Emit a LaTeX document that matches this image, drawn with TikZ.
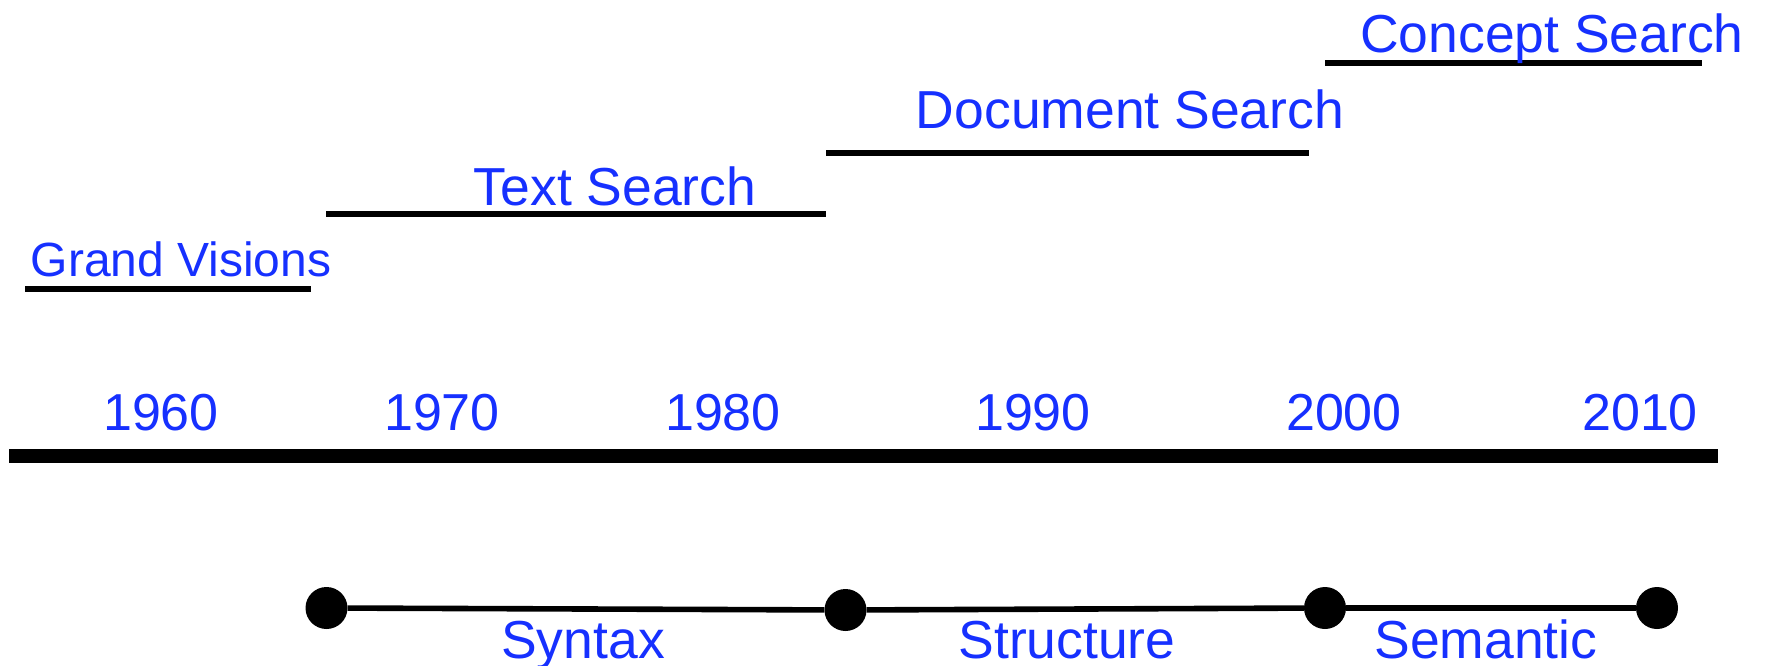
\documentclass[tikz,border=0pt]{standalone}
\usepackage{fontspec}
\setmainfont{Liberation Sans}
\definecolor{lblblue}{RGB}{22,48,255}
\begin{document}
\begin{tikzpicture}[x=1pt,y=-1pt,
  lbl/.style={text=lblblue,font=\fontsize{53.5}{60}\selectfont,inner sep=0pt,anchor=base},
  era/.style={line width=5.6pt},
  axis/.style={line width=13.5pt},
  dot/.style={circle,fill=black,minimum size=42pt,inner sep=0pt},
  link/.style={line width=5.6pt}]
\useasboundingbox (0,0) rectangle (1765,666);
% eras
\coordinate (gvA) at (25,289); \coordinate (gvB) at (311,289);
\coordinate (tsA) at (326,214); \coordinate (tsB) at (826,214);
\coordinate (dsA) at (826,153); \coordinate (dsB) at (1309,153);
\coordinate (csA) at (1325,63); \coordinate (csB) at (1702,63);
\draw[era] (gvA) -- (gvB);
\draw[era] (tsA) -- (tsB);
\draw[era] (dsA) -- (dsB);
\draw[era] (csA) -- (csB);
\node[lbl,font=\fontsize{48}{58}\selectfont] (gv) at (181,276) {Grand Visions};
\node[lbl] (ts) at (615,205) {Text Search};
\node[lbl] (ds) at (1130,129) {Document Search};
\node[lbl] (cs) at (1552,53) {Concept Search};
% axis
\coordinate (axA) at (9,456); \coordinate (axB) at (1718,456);
\draw[axis] (axA) -- (axB);
\node[lbl,font=\fontsize{52}{60}\selectfont] (y60) at (161,430) {1960};
\node[lbl,font=\fontsize{52}{60}\selectfont] (y70) at (442,430) {1970};
\node[lbl,font=\fontsize{52}{60}\selectfont] (y80) at (723,430) {1980};
\node[lbl,font=\fontsize{52}{60}\selectfont] (y90) at (1033,430) {1990};
\node[lbl,font=\fontsize{52}{60}\selectfont] (y00) at (1344,430) {2000};
\node[lbl,font=\fontsize{52}{60}\selectfont] (y10) at (1640,430) {2010};
% bottom
\node[dot] (d1) at (326.5,608) {};
\node[dot] (d2) at (845.5,610) {};
\node[dot] (d3) at (1325,608) {};
\node[dot] (d4) at (1657,608) {};
\draw[link] (d1) -- (d2);
\draw[link] (d2) -- (d3);
\draw[link] (d3) -- (d4);
\node[lbl] (syn) at (583,658) {Syntax};
\node[lbl] (str) at (1067,658) {Structure};
\node[lbl] (sem) at (1486,658) {Semantic};
\end{tikzpicture}
\end{document}
